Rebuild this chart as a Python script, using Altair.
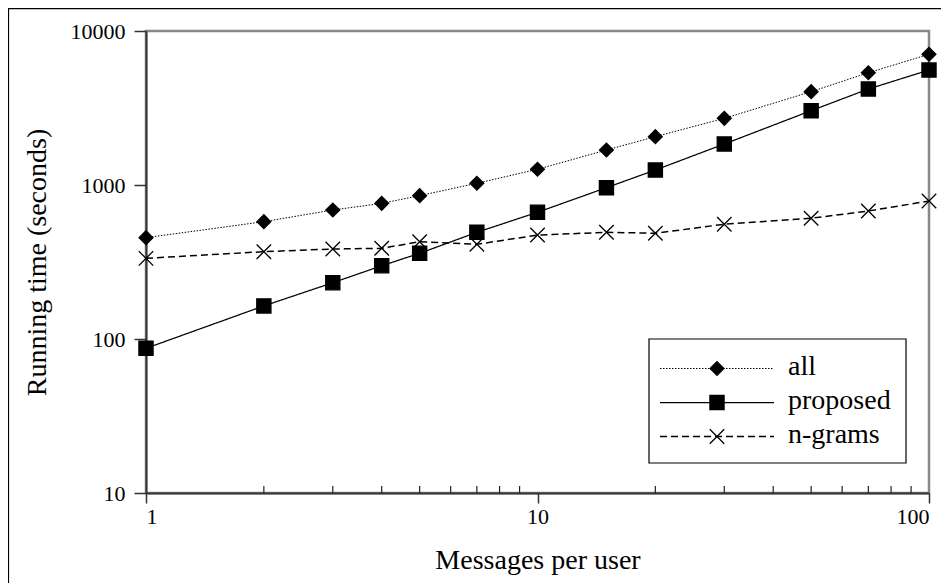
import altair as alt
import pandas as pd

# ---- data ----
messages = [1, 2, 3, 4, 5, 7, 10, 15, 20, 30, 50, 70, 100]
all_time = [455, 578, 688, 760, 853, 1026, 1265, 1687, 2060, 2710, 4036, 5360, 7060]
proposed_time = [87, 164, 232, 299, 360, 493, 665, 961, 1251, 1846, 3039, 4200, 5580]
ngrams_time = [334, 369, 384, 388, 428, 412, 473, 493, 486, 556, 608, 678, 787]
series_names = ["all", "proposed", "n-grams"]
x_major_ticks = [1, 10, 100]
x_minor_ticks = [2, 3, 4, 5, 6, 7, 8, 9, 20, 30, 40, 50, 60, 70, 80, 90]
y_ticks = [10, 100, 1000, 10000]

rows = []
for name, vals in zip(series_names, [all_time, proposed_time, ngrams_time]):
    for m, v in zip(messages, vals):
        rows.append({"series": name, "x": m, "y": v})
df = pd.DataFrame(rows)
legend_df = pd.DataFrame({"series": series_names, "idx": list(range(len(series_names)))})
minor_df = pd.DataFrame({"x": x_minor_ticks})

W, H = 783, 462
FONT = "Liberation Serif, Times New Roman, serif"

x_scale = alt.Scale(type="log", domain=[1, 100], nice=False)
y_scale = alt.Scale(type="log", domain=[10, 10000], nice=False)
dash_scale = alt.Scale(domain=series_names, range=[[1.5, 1.5], [1, 0], [7, 4]])
width_scale = alt.Scale(domain=series_names, range=[1, 1.5, 1.3])
shape_scale = alt.Scale(domain=series_names,
                        range=["diamond", "square", "M-1,-1L1,1M-1,1L1,-1"])
fill_scale = alt.Scale(domain=series_names, range=["black", "black", "transparent"])
size_scale = alt.Scale(domain=series_names, range=[190, 210, 240])

x_enc = alt.X("x:Q", scale=x_scale,
              axis=alt.Axis(values=x_major_ticks, format="d", title="Messages per user",
                            tickSize=10, labelPadding=3, titleX=W / 2, titleY=75,
                            titleBaseline="alphabetic", titleAnchor="middle"))
y_enc = alt.Y("y:Q", scale=y_scale,
              axis=alt.Axis(values=y_ticks, format="d", title="Running time (seconds)",
                            tickSize=12, labelPadding=9, titleX=-101, titleY=H / 2,
                            titleAngle=-90, titleBaseline="alphabetic", titleAlign="center"))

lines = alt.Chart(df).mark_line(color="black").encode(
    x=x_enc, y=y_enc,
    detail="series:N",
    strokeDash=alt.StrokeDash("series:N", scale=dash_scale, legend=None),
    strokeWidth=alt.StrokeWidth("series:N", scale=width_scale, legend=None),
)

points = alt.Chart(df).mark_point(stroke="black", strokeWidth=1.3, opacity=1).encode(
    x="x:Q", y="y:Q",
    shape=alt.Shape("series:N", scale=shape_scale, legend=None),
    fill=alt.Fill("series:N", scale=fill_scale, legend=None),
    size=alt.Size("series:N", scale=size_scale, legend=None),
)

minor = alt.Chart(minor_df).mark_rule(color="#222", strokeWidth=1.2).encode(
    x="x:Q", y=alt.value(H), y2=alt.value(H - 7)
)

# legend (drawn by hand to show line + marker)
leg_base = alt.Chart(legend_df).transform_calculate(ly="337.5 + 34 * datum.idx")
leg_box = alt.Chart(pd.DataFrame({"a": [0]})).mark_rect(
    fill="white", stroke="black", strokeWidth=1.2
).encode(x=alt.value(503), x2=alt.value(760), y=alt.value(308), y2=alt.value(432))
leg_lines = leg_base.mark_rule(color="black").encode(
    x=alt.value(514), x2=alt.value(628),
    y=alt.Y("ly:Q", scale=None),
    strokeDash=alt.StrokeDash("series:N", scale=dash_scale, legend=None),
    strokeWidth=alt.StrokeWidth("series:N", scale=width_scale, legend=None),
)
leg_points = leg_base.mark_point(stroke="black", strokeWidth=1.3, opacity=1).encode(
    x=alt.value(571),
    y=alt.Y("ly:Q", scale=None),
    shape=alt.Shape("series:N", scale=shape_scale, legend=None),
    fill=alt.Fill("series:N", scale=fill_scale, legend=None),
    size=alt.Size("series:N", scale=size_scale, legend=None),
)
leg_text = leg_base.mark_text(align="left", baseline="middle", font=FONT,
                              fontSize=28, color="black", dy=-2).encode(
    x=alt.value(642), y=alt.Y("ly:Q", scale=None), text="series:N"
)

# outer figure border (left and top edges visible)
one = pd.DataFrame({"a": [0]})
border_left = alt.Chart(one).mark_rule(color="black", strokeWidth=1.2).encode(
    x=alt.value(-137.5), y=alt.value(-22.5), y2=alt.value(H + 200))
border_top = alt.Chart(one).mark_rule(color="black", strokeWidth=1.2).encode(
    x=alt.value(-138), x2=alt.value(W + 100), y=alt.value(-22.4))

chart = alt.layer(
    border_left, border_top, minor, lines, points,
    leg_box, leg_lines, leg_points, leg_text
).properties(
    width=W, height=H,
    autosize=alt.AutoSizeParams(type="none"),
    padding={"left": 138, "top": 23, "right": 12, "bottom": 90},
).configure_view(
    stroke="#888888", strokeWidth=2.5
).configure_axis(
    grid=False, domainColor="#333333", domainWidth=2, tickColor="#333333",
    tickWidth=1.5, labelFont=FONT, labelFontSize=22, labelColor="black",
    titleFont=FONT, titleFontSize=28, titleFontWeight="normal", titleColor="black",
)

chart.save("out.html", embed_options={"renderer": "svg", "actions": False})
